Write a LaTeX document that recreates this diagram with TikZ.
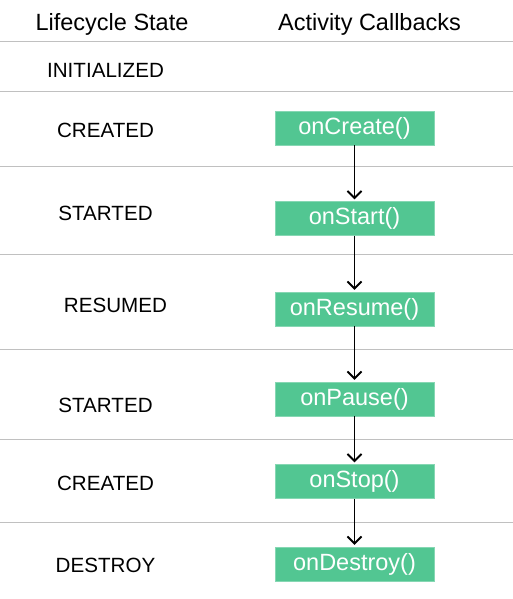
\documentclass[tikz,border=0pt]{standalone}
\usepackage{fontspec}
\setmainfont{Liberation Sans}
\usetikzlibrary{arrows.meta}
\definecolor{cbgreen}{RGB}{82,198,146}
\definecolor{rulegray}{RGB}{192,192,192}

\begin{document}
\begin{tikzpicture}[x=1pt, y=-1pt,
  head/.style={font=\fontsize{23.5}{28}\selectfont, anchor=base},
  state/.style={font=\fontsize{20.6}{24}\selectfont, anchor=base},
  callback/.style={fill=cbgreen, draw=cbgreen!70!white, text=white, inner sep=0pt,
    minimum width=159pt, minimum height=34pt, font=\fontsize{23.5}{28}\selectfont},
  flow/.style={line width=1.9pt, -{Straight Barb[length=7pt, width=14pt]}, shorten >=2pt}]
  \useasboundingbox (0,0) rectangle (513,599);
  \foreach \ry in {42, 92, 166, 254, 349, 439, 522}
    \draw[rulegray, line width=1pt] (0, \ry) -- (513, \ry);
  \node[head] (hstate) at (112, 31) {Lifecycle State};
  \node[head] (hcall) at (369.5, 31) {Activity Callbacks};
  \node[state] (sinit) at (105.5, 77.4) {INITIALIZED};
  \node[state] (screate) at (105.5, 137.4) {CREATED};
  \node[state] (sstart) at (105.5, 220.4) {STARTED};
  \node[state] (sresume) at (115.5, 312.4) {RESUMED};
  \node[state] (spause) at (105.5, 412.4) {STARTED};
  \node[state] (sstop) at (105.5, 490.4) {CREATED};
  \node[state] (sdestroy) at (105.5, 572.4) {DESTROY};
  \node[callback] (oncreate) at (354.5, 128) {onCreate()};
  \node[callback] (onstart) at (354.5, 218.5) {onStart()};
  \node[callback] (onresume) at (354.5, 309) {onResume()};
  \node[callback] (onpause) at (354.5, 399) {onPause()};
  \node[callback] (onstop) at (354.5, 481.5) {onStop()};
  \node[callback] (ondestroy) at (354.5, 564) {onDestroy()};
  \foreach \a/\b in {oncreate/onstart, onstart/onresume, onresume/onpause,
                     onpause/onstop, onstop/ondestroy}
    \draw[flow] (\a.south) -- (\b.north);
\end{tikzpicture}
\end{document}
